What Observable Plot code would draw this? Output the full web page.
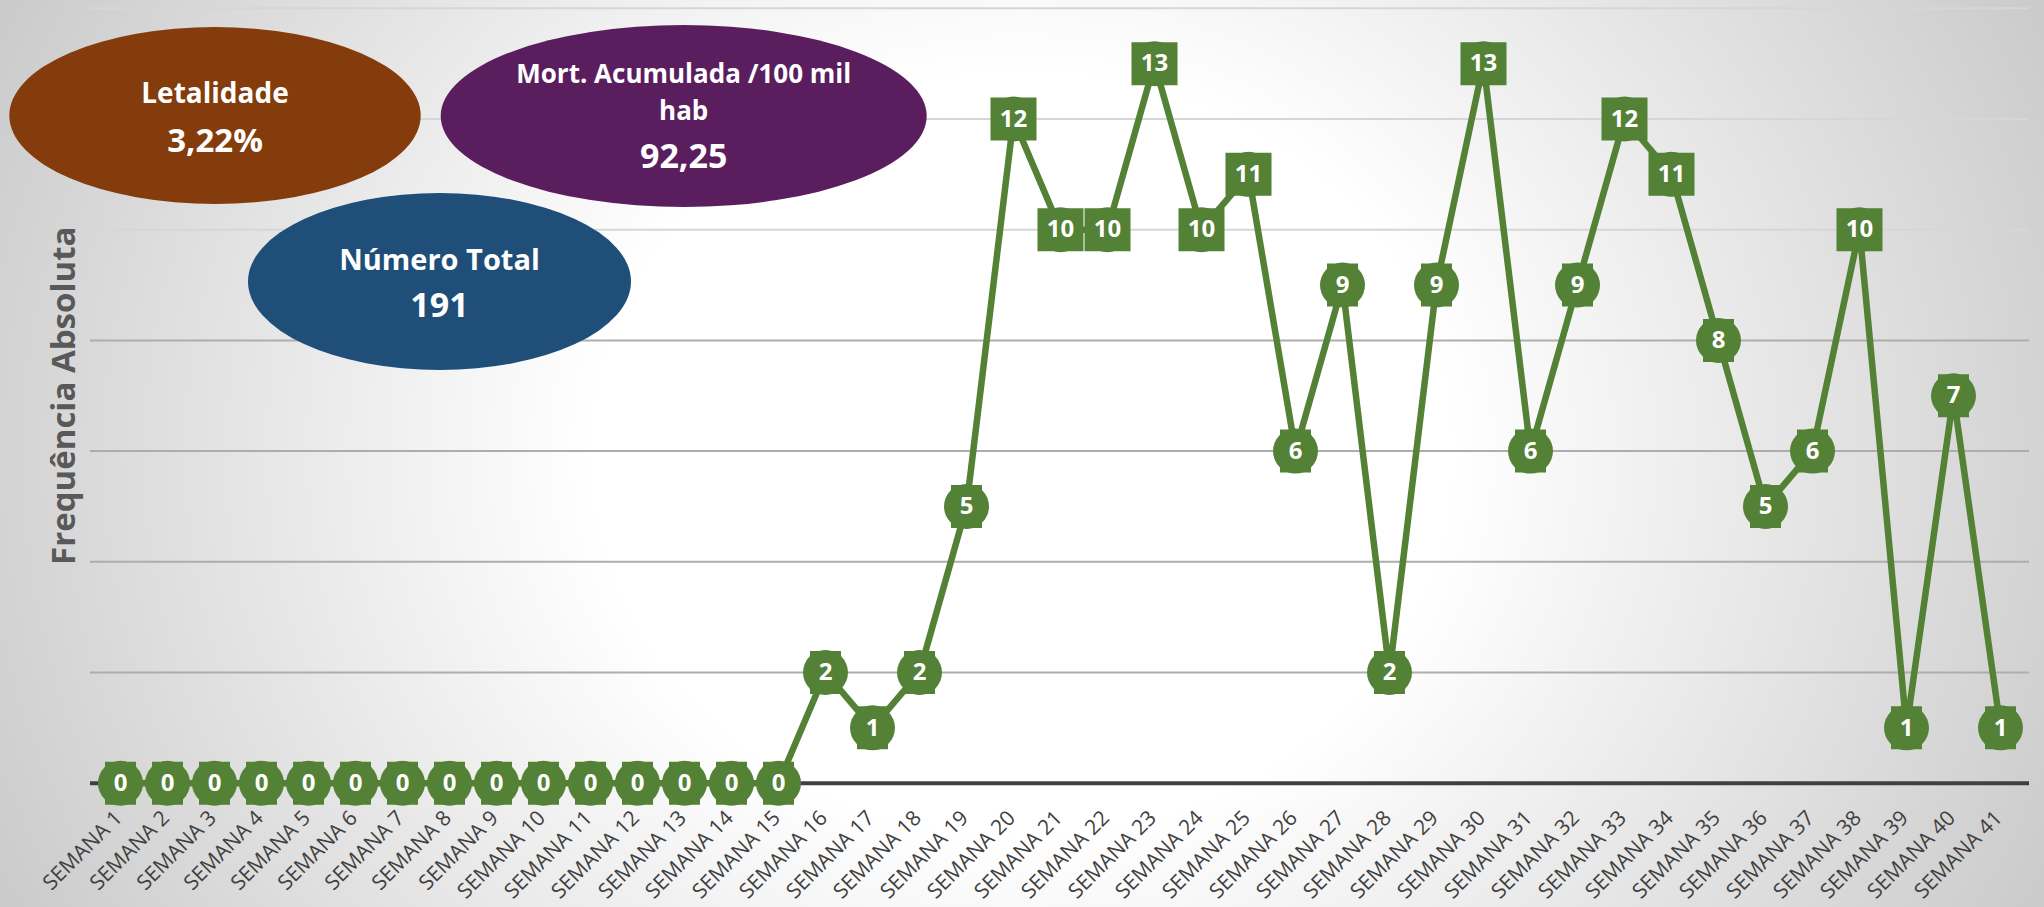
<!DOCTYPE html>
<html>
<head>
<meta charset="utf-8">
<script src="https://cdn.jsdelivr.net/npm/d3@7"></script>
<script src="https://cdn.jsdelivr.net/npm/@observablehq/plot@0.6"></script>
<style>
  html, body { margin: 0; padding: 0; }
  #chart {
    width: 2044px; height: 907px; position: relative; overflow: hidden;
    background: radial-gradient(ellipse 60% 120% at 50% 50%, #ffffff 0%, #ffffff 35%, #c4c4c4 100%);
    font-family: "Open Sans", sans-serif;
  }
  #chart svg { position: absolute; left: 0; top: 0; }
</style>
</head>
<body>
<div id="chart"></div>
<script>
const weeks = [
  "SEMANA 1","SEMANA 2","SEMANA 3","SEMANA 4","SEMANA 5","SEMANA 6","SEMANA 7","SEMANA 8",
  "SEMANA 9","SEMANA 10","SEMANA 11","SEMANA 12","SEMANA 13","SEMANA 14","SEMANA 15","SEMANA 16",
  "SEMANA 17","SEMANA 18","SEMANA 19","SEMANA 20","SEMANA 21","SEMANA 22","SEMANA 23","SEMANA 24",
  "SEMANA 25","SEMANA 26","SEMANA 27","SEMANA 28","SEMANA 29","SEMANA 30","SEMANA 31","SEMANA 32",
  "SEMANA 33","SEMANA 34","SEMANA 35","SEMANA 36","SEMANA 37","SEMANA 38","SEMANA 39","SEMANA 40",
  "SEMANA 41"
];
const deaths = [
  0,0,0,0,0,0,0,0,0,0,0,0,0,0,0,
  2,1,2,5,12,10,10,13,10,11,6,9,2,9,13,6,9,12,11,8,5,6,10,1,7,1
];
const gridValues = [2,4,6,8,10,12,14];
const yTitle = "Frequência Absoluta";
const boxes = [
  {title: ["Letalidade"], value: "3,22%", color: "#843C0C"},
  {title: ["Mort. Acumulada /100 mil", "hab"], value: "92,25", color: "#5A1E5F"},
  {title: ["Número Total"], value: "191", color: "#1F4E79"}
];

const data = weeks.map((w, i) => ({week: w, value: deaths[i]}));
const green = "#538135";
const box = (w, h) => ({draw(ctx) { ctx.rect(-w / 2, -h / 2, w, h); }});

const chart = Plot.plot({
  width: 2044,
  height: 907,
  marginLeft: 90,
  marginRight: 15,
  marginTop: 7.8,
  marginBottom: 124.3,
  style: {background: "transparent", fontFamily: "Open Sans, sans-serif", overflow: "visible"},
  x: {type: "point", domain: weeks, padding: 0.5, axis: null},
  y: {domain: [0, 14], axis: null},
  marks: [
    Plot.ruleY(gridValues, {y: d => d, stroke: d => d >= 10 ? "#d6d6d6" : "#adadad", strokeWidth: 2}),
    Plot.ruleY([0], {stroke: "#404040", strokeWidth: 4}),
    Plot.line(data, {x: "week", y: "value", stroke: green, strokeWidth: 6.5}),
    Plot.dot(data, {x: "week", y: "value", r: 22.5, fill: green}),
    Plot.dot(data, {filter: d => d.value >= 10, x: "week", y: "value", symbol: box(46, 43), fill: green}),
    Plot.dot(data, {filter: d => d.value < 10, x: "week", y: "value", symbol: box(31, 43), fill: green}),
    Plot.text(data, {x: "week", y: "value", text: d => String(d.value), fill: "white", fontSize: 24, fontWeight: "bold"}),
    Plot.text(weeks, {x: d => d, frameAnchor: "bottom", dy: 36, dx: 3, rotate: -45, textAnchor: "end",
                      lineAnchor: "bottom", fontSize: 21, fill: "#404040"}),
    Plot.text([yTitle], {frameAnchor: "left", rotate: -90, dx: -26, textAnchor: "middle",
                         fontSize: 33, fontWeight: "bold", fill: "#595959"})
  ]
});

// annotation ellipses (not data)
const svg = d3.select(chart);
const shapes = [
  {cx: 215, cy: 115.5, rx: 205.7, ry: 88.5, lines: [[103, 28], [152, 33]]},
  {cx: 683.7, cy: 116, rx: 243, ry: 91, lines: [[83, 26], [120, 26], [168, 34]]},
  {cx: 439.5, cy: 281.5, rx: 191.5, ry: 88.5, lines: [[270, 29], [316.7, 34]]}
];
const g = svg.append("g");
boxes.forEach((b, i) => {
  const s = shapes[i];
  g.append("ellipse").attr("cx", s.cx).attr("cy", s.cy).attr("rx", s.rx).attr("ry", s.ry).attr("fill", b.color);
  const texts = [...b.title, b.value];
  texts.forEach((t, j) => {
    g.append("text").attr("x", s.cx).attr("y", s.lines[j][0]).attr("text-anchor", "middle")
      .attr("font-size", s.lines[j][1]).attr("font-weight", "bold").attr("fill", "white")
      .attr("font-family", "Open Sans, sans-serif").text(t);
  });
});

document.getElementById("chart").appendChild(chart);
</script>
</body>
</html>
